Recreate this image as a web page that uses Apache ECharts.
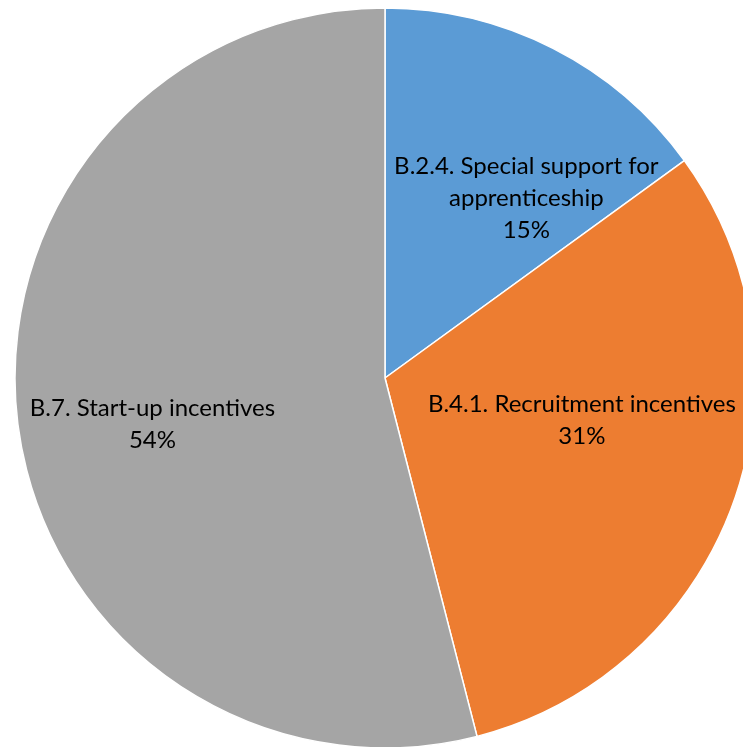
<!DOCTYPE html>
<html>
<head>
<meta charset="utf-8">
<script src="https://cdn.jsdelivr.net/npm/echarts@6/dist/echarts.min.js"></script>
<style>
  html, body { margin: 0; padding: 0; background: #fff; }
  #chart { width: 743px; height: 747px; }
</style>
</head>
<body>
<div id="chart"></div>
<script>
// Share of spending by measure
const categories = [
  'B.2.4. Special support for\napprenticeship',
  'B.4.1. Recruitment incentives',
  'B.7. Start-up incentives'
];
const shares = [15, 31, 54];
const colors = ['#5B9BD5', '#ED7D31', '#A5A5A5'];
// nudges for the in-slice labels
const labelShift = [[56, -12], [20, -21], [-46, 23]];

const chart = echarts.init(document.getElementById('chart'));
chart.setOption({
  animation: false,
  series: [{
    type: 'pie',
    center: [385, 378],
    radius: 370,
    startAngle: 90,
    clockwise: true,
    label: {
      position: 'inside',
      formatter: p => p.name + '\n' + p.value + '%',
      color: '#000',
      fontFamily: 'Lato',
      fontSize: 24,
      lineHeight: 32,
      align: 'center'
    },
    labelLine: { show: false },
    itemStyle: { borderColor: '#fff', borderWidth: 1.5 },
    data: categories.map((name, i) => ({
      name: name,
      value: shares[i],
      itemStyle: { color: colors[i] },
      label: { offset: labelShift[i] }
    }))
  }]
});
</script>
</body>
</html>
